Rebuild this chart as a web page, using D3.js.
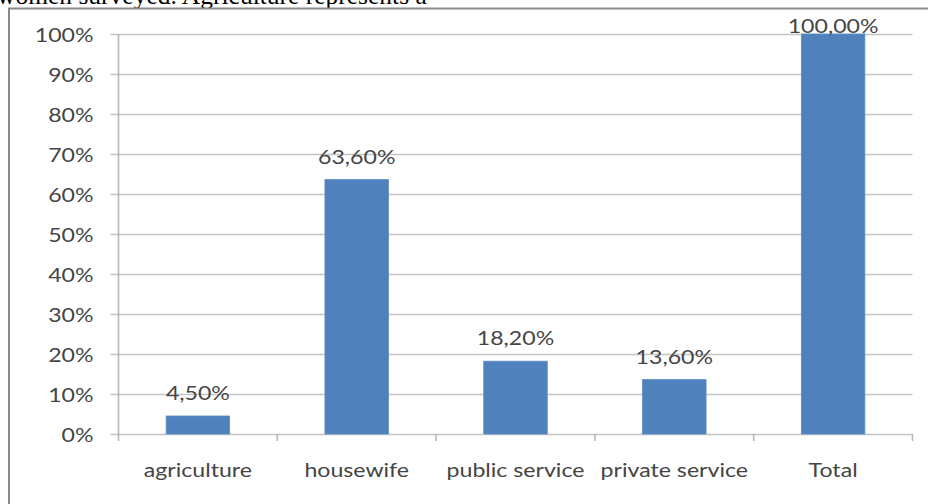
<!DOCTYPE html>
<html><head><meta charset="utf-8">
<script src="https://cdn.jsdelivr.net/npm/d3@7"></script>
<style>html,body{margin:0;padding:0;background:#fff;overflow:hidden}</style>
</head><body>
<svg id="c" width="928" height="504"></svg>
<script>
const categories = ["agriculture", "housewife", "public service", "private service", "Total"];
const values = [4.5, 63.6, 18.2, 13.6, 100];
const yTicks = [0, 10, 20, 30, 40, 50, 60, 70, 80, 90, 100];
const captionText = "women surveyed. Agriculture represents a";

(function () {
const W = 928, H = 504;
const pLeft = 118.5, pRight = 912.5, pTop = 34, pBottom = 434;
const SX = 1.25;
const txtColor = "#454545";
const font = "Lato, 'Open Sans', sans-serif";

const svg = d3.select("#c");
const loc = d3.formatLocale({decimal: ",", thousands: ".", grouping: [3], currency: ["", ""]});
const fmtVal = v => loc.format(".2f")(v) + "%";

// caption cut-off text (from surrounding document)
svg.append("text").attr("x", -3).attr("y", 4)
  .attr("font-family", "'Liberation Serif', 'Times New Roman', serif")
  .attr("font-size", 25.5).attr("fill", "#000").text(captionText);

// frame
svg.append("rect").attr("x", 9).attr("y", 8.5).attr("width", W + 20).attr("height", H + 20)
  .attr("fill", "none").attr("stroke", "#8a8a8a").attr("stroke-width", 2);

const x = d3.scaleBand().domain(categories).range([pLeft, pRight]).paddingInner(0.6).paddingOuter(0.3);
const y = d3.scaleLinear().domain([0, 100]).range([pBottom, pTop]);

// gridlines (extend left as ticks)
svg.append("g").selectAll("line").data(yTicks).join("line")
  .attr("x1", pLeft - 8).attr("x2", pRight)
  .attr("y1", d => Math.round(y(d)) + 0.5).attr("y2", d => Math.round(y(d)) + 0.5)
  .attr("stroke", "#c4c4c4").attr("stroke-width", 1.6);

// y axis line
svg.append("line").attr("x1", pLeft).attr("x2", pLeft).attr("y1", pTop).attr("y2", pBottom + 0.5)
  .attr("stroke", "#b8b8b8").attr("stroke-width", 1.6);

// x axis ticks at band boundaries
const step = x.step();
const bounds = d3.range(categories.length + 1).map(i => pLeft + i * step);
svg.append("g").selectAll("line").data(bounds).join("line")
  .attr("x1", d => d).attr("x2", d => d).attr("y1", pBottom).attr("y2", pBottom + 7)
  .attr("stroke", "#b8b8b8").attr("stroke-width", 1.6);

// y labels
svg.append("g").selectAll("text").data(yTicks).join("text")
  .attr("transform", d => `translate(${pLeft - 25},${y(d)}) scale(${SX},1)`)
  .attr("text-anchor", "end").attr("dominant-baseline", "central")
  .attr("font-family", font).attr("font-size", 18.5).attr("fill", txtColor)
  .text(d => d + "%");

// bars
svg.append("g").selectAll("rect").data(values).join("rect")
  .attr("x", (d, i) => x(categories[i])).attr("width", x.bandwidth())
  .attr("y", d => y(d)).attr("height", d => pBottom - y(d))
  .attr("fill", "#4f81bd").attr("stroke", "#5b8cc6").attr("stroke-width", 0.8);

// value labels
svg.append("g").selectAll("text").data(values).join("text")
  .attr("transform", (d, i) => `translate(${x(categories[i]) + x.bandwidth() / 2},${Math.max(y(d) - 16, pTop - 1)}) scale(${SX},1)`)
  .attr("text-anchor", "middle")
  .attr("font-family", font).attr("font-size", 18.5).attr("fill", txtColor)
  .text(d => fmtVal(d));

// x labels
svg.append("g").selectAll("text").data(categories).join("text")
  .attr("transform", d => `translate(${x(d) + x.bandwidth() / 2},${477}) scale(${SX},1)`)
  .attr("text-anchor", "middle")
  .attr("font-family", font).attr("font-size", 18.5).attr("fill", txtColor)
  .text(d => d);
})();
</script>
</body></html>
